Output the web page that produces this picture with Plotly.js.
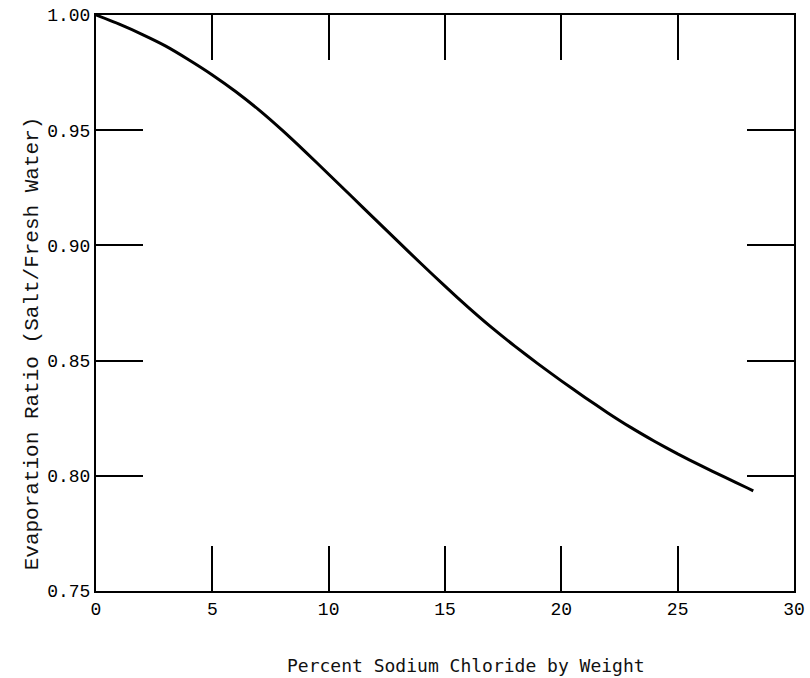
<!DOCTYPE html>
<html>
<head>
<meta charset="utf-8">
<script src="https://cdn.plot.ly/plotly-3.0.1.min.js"></script>
<style>
  html, body { margin: 0; padding: 0; background: #ffffff; }
  #chart { width: 810px; height: 678px; }
</style>
</head>
<body>
<div id="chart"></div>
<script>
// Percent sodium chloride by weight
const naclPercent = [0, 1, 2, 3, 4, 5, 6, 7, 8, 9, 10, 11, 12, 13, 14, 15, 16, 17, 18, 19, 20, 21, 22, 23, 24, 25, 26, 27, 28, 28.25];
// Evaporation ratio (salt / fresh water)
const evapRatio = [1.0000, 0.9960, 0.9915, 0.9865, 0.9805, 0.9740, 0.9668, 0.9588, 0.9500, 0.9406,
                   0.9309, 0.9211, 0.9113, 0.9015, 0.8918, 0.8823, 0.8731, 0.8644, 0.8563, 0.8486,
                   0.8412, 0.8341, 0.8273, 0.8209, 0.8150, 0.8095, 0.8044, 0.7995, 0.7947, 0.7935];

const xTickVals = [0, 5, 10, 15, 20, 25, 30];
const xTickText = ['0', '5', '10', '15', '20', '25', '30'];
const yTickVals = [0.75, 0.80, 0.85, 0.90, 0.95, 1.00];
const yTickText = ['0.75', '0.80', '0.85', '0.90', '0.95', '1.00'];

const xTitle = 'Percent Sodium Chloride by Weight';
const yTitle = 'Evaporation Ratio (Salt/Fresh Water)';

const typewriter = '"Courier New", "Liberation Mono", monospace';

const trace = {
  x: naclPercent,
  y: evapRatio,
  type: 'scatter',
  mode: 'lines',
  line: { color: '#000000', width: 3, shape: 'spline', smoothing: 0.5 },
  hoverinfo: 'x+y',
  showlegend: false
};

const layout = {
  width: 810,
  height: 678,
  margin: { l: 96, r: 16, t: 15, b: 87 },
  paper_bgcolor: '#ffffff',
  plot_bgcolor: '#ffffff',
  showlegend: false,
  xaxis: {
    range: [0, 30],
    tickmode: 'array',
    tickvals: xTickVals,
    ticktext: xTickText,
    ticks: 'inside',
    ticklen: 45,
    tickwidth: 2,
    tickcolor: '#000000',
    showline: true,
    linecolor: '#000000',
    linewidth: 2,
    mirror: 'ticks',
    showgrid: false,
    zeroline: false,
    tickfont: { family: typewriter, size: 18, color: '#000000' },
    title: { text: '' }
  },
  yaxis: {
    range: [0.75, 1.00],
    tickmode: 'array',
    tickvals: yTickVals,
    ticktext: yTickText,
    ticks: 'inside',
    ticklen: 47,
    tickwidth: 2,
    tickcolor: '#000000',
    showline: true,
    linecolor: '#000000',
    linewidth: 2,
    mirror: 'ticks',
    showgrid: false,
    zeroline: false,
    tickfont: { family: typewriter, size: 18, color: '#000000' },
    title: { text: '' }
  },
  annotations: [
    {
      text: xTitle,
      xref: 'paper', yref: 'paper',
      x: 0.530, y: -0.130,
      xanchor: 'center', yanchor: 'middle',
      showarrow: false,
      font: { family: '"DejaVu Sans Mono", monospace', size: 18, color: '#111111' }
    },
    {
      text: yTitle,
      xref: 'paper', yref: 'paper',
      x: -0.0917, y: 0.43,
      xanchor: 'center', yanchor: 'middle',
      textangle: -90,
      showarrow: false,
      font: { family: typewriter, size: 21, color: '#111111' }
    }
  ]
};

Plotly.newPlot('chart', [trace], layout, { displayModeBar: false, staticPlot: true });
</script>
</body>
</html>
